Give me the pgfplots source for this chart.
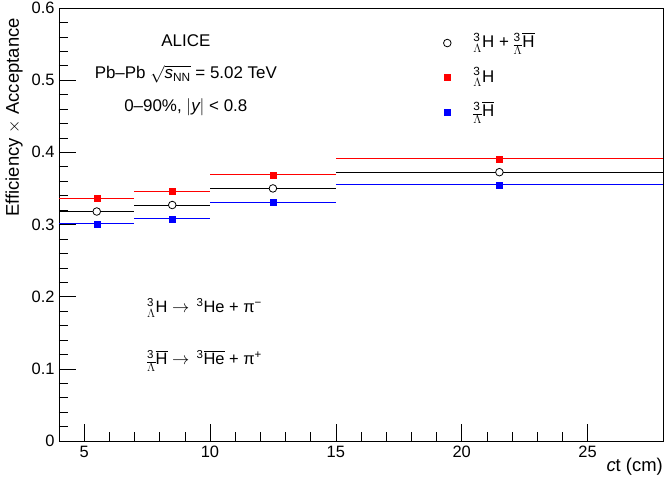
\documentclass[border=0pt]{standalone}
\usepackage{pgfplots}
\pgfplotsset{compat=1.18}
\usepackage{amsmath}
\usepackage{fontspec}
\setmainfont{Liberation Sans}

\newcommand{\hyp}{${}^{\text{3}}_{\Lambda}\text{H}$}
\newcommand{\antihyp}{${}^{\text{3}}_{\overline{\Lambda}}\overline{\text{H}}$}

% marker only, but keep room between marker and text
\pgfplotsset{
    legimg/.style={legend image code/.code={%
        \path (0bp,0bp) (29bp,0bp);
        \draw[mark repeat=2, mark phase=2, ##1] plot coordinates {(0bp,0bp) (5bp,0bp) (29bp,0bp)};}},
}

\begin{document}
\begin{tikzpicture}
\begin{axis}[
    scale only axis,
    width=604bp, height=433bp,
    xmin=4, xmax=28,
    ymin=0, ymax=0.6,
    xtick={5,10,15,20,25},
    ytick={0,0.1,0.2,0.3,0.4,0.5,0.6},
    minor x tick num=4,
    minor y tick num=4,
    tick align=inside,
    tick pos=left,
    major tick length=17bp,
    minor tick length=9bp,
    tick style={black, line width=0.6pt},
    axis line style={line width=0.8pt},
    font=\fontsize{17}{20}\selectfont,
    /pgf/number format/assume math mode=true,
    ticklabel style={font=\fontsize{16.5}{19}\selectfont},
    yticklabel style={/pgf/number format/fixed, /pgf/number format/precision=1, xshift=-1bp},
    xticklabel style={yshift=-2bp},
    xlabel={\textit{c}t (cm)},
    xlabel style={at={(rel axis cs:1,0)}, anchor=north east, yshift=-17bp, inner sep=0pt,
                  font=\fontsize{18.5}{21}\selectfont},
    ylabel={Efficiency $\times$ Acceptance},
    ylabel style={at={([xshift=-36bp,yshift=-10bp]rel axis cs:0,1)}, anchor=south east, inner sep=0pt,
                  font=\fontsize{18.5}{21}\selectfont},
    legend style={at={(rel axis cs:0.629,0.953)}, anchor=north west, draw=none, fill=none,
                  row sep=9.5bp, font=\fontsize{17}{20}\selectfont,
                  nodes={text height=15bp, text depth=6bp}},
    legend cell align=left,
]
% combined
\addplot[only marks, legimg, black, mark=*, mark size=3.8bp, mark options={fill=white, line width=0.8pt},
    error bars/.cd, x dir=both, x explicit, y dir=none, error mark=none,
    error bar style={line width=0.8pt, black}]
    coordinates {
    (5.5,0.318) +- (1.5,0)
    (8.5,0.327) +- (1.5,0)
    (12.5,0.350) +- (2.5,0)
    (21.5,0.3725) +- (6.5,0)
    };
% matter
\addplot[only marks, legimg, red, mark=square*, mark size=3bp,
    error bars/.cd, x dir=both, x explicit, y dir=none, error mark=none,
    error bar style={line width=0.8pt, red}]
    coordinates {
    (5.5,0.3367) +- (1.5,0)
    (8.5,0.3455) +- (1.5,0)
    (12.5,0.369) +- (2.5,0)
    (21.5,0.391) +- (6.5,0)
    };
% antimatter
\addplot[only marks, legimg, blue, mark=square*, mark size=3bp,
    error bars/.cd, x dir=both, x explicit, y dir=none, error mark=none,
    error bar style={line width=0.8pt, blue}]
    coordinates {
    (5.5,0.301) +- (1.5,0)
    (8.5,0.308) +- (1.5,0)
    (12.5,0.331) +- (2.5,0)
    (21.5,0.355) +- (6.5,0)
    };
\legend{\hyp{} + \antihyp, \hyp, \antihyp}

\node[anchor=center] at (rel axis cs:0.21,0.924) {ALICE};
\node[anchor=center] at (rel axis cs:0.21,0.847) {Pb--Pb $\sqrt{\textit{s}_{\text{NN}}}$ = 5.02 TeV};
\node[anchor=center] at (rel axis cs:0.21,0.771) {0--90\%, $|\textit{y}|$ < 0.8};
\node[anchor=west, font=\fontsize{16.5}{19}\selectfont] at (rel axis cs:0.140,0.307) {\hyp{} $\rightarrow$\, ${}^{\text{3}}$He + π$^{\text{−}}$};
\node[anchor=west, font=\fontsize{16.5}{19}\selectfont] at (rel axis cs:0.140,0.185) {\antihyp{} $\rightarrow$\, ${}^{\text{3}}\overline{\text{He}}$ + π$^{\text{+}}$};

\coordinate (bl) at (rel axis cs:0,0);
\coordinate (tr) at (rel axis cs:1,1);
\end{axis}
\pgfresetboundingbox
\path ([xshift=-59bp,yshift=-44bp]bl) rectangle ([xshift=1bp,yshift=8bp]tr);
\end{tikzpicture}
\end{document}
